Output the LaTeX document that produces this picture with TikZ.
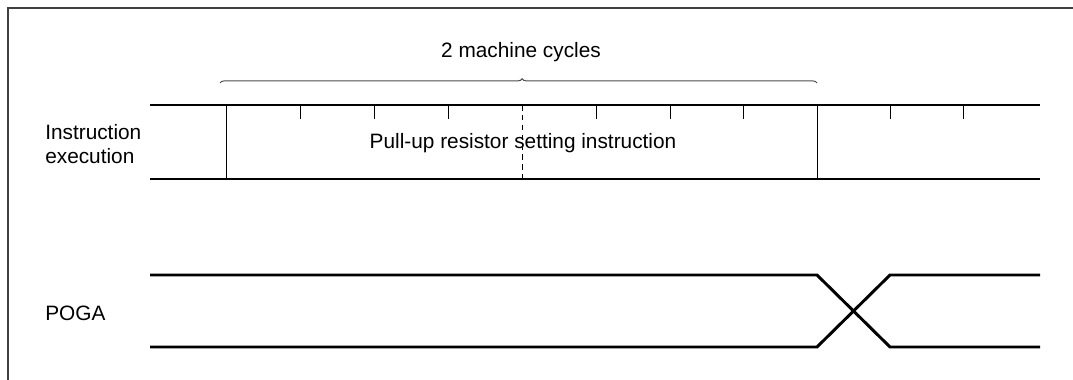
\documentclass[tikz,border=0pt]{standalone}
\usepackage{fontspec}
\setmainfont{Liberation Sans}
\usetikzlibrary{decorations.pathreplacing}

\begin{document}
\begin{tikzpicture}[
    x={(0.025cm,0cm)},
    y={(0cm,-0.025cm)},
    line cap=butt,
    line join=miter,
    frameline/.style={line width=1.2pt,draw=black!75},
    signal/.style={line width=2.1pt},
    edge/.style={line width=0.7pt},
    cycledash/.style={line width=0.7pt,dashed,dash pattern=on 4pt off 3pt},
    label/.style={font=\fontsize{14.8}{17}\selectfont,inner sep=0pt}
]

% =========================================================
% Параметры
% =========================================================

\def\xs{150}     % начало сигналов
\def\xe{1040}    % конец сигналов
\def\yt{105}     % верх шины команд
\def\yb{179}     % низ шины команд
\def\pt{275}     % верх POGA
\def\pb{347}     % низ POGA
\def\tk{14}      % длина штриха такта

\useasboundingbox (0,0) rectangle (1073,380);

% =========================================================
% Рамка
% =========================================================

\draw[frameline] (8,380)--(8,8)--(1073,8);

% =========================================================
% Подписи сигналов
% =========================================================

\node[label,anchor=west,align=left] (instr) at (45,144)
    {Instruction\\execution};
\node[label,anchor=west] (poga) at (45,313) {POGA};

% =========================================================
% Шина выполнения команд
% =========================================================

\draw[signal] (\xs,\yt)--(\xe,\yt);
\draw[signal] (\xs,\yb)--(\xe,\yb);

\draw[edge] (226,\yt)--(226,\yb);
\draw[edge] (817,\yt)--(817,\yb);
\draw[cycledash] (522,\yt)--(522,\yb);

% штрихи тактов
\foreach \x in {300,374,448,596,670,743,890,963}
    \draw[edge] (\x,\yt)--(\x,\yt+\tk);

\node[label] (cmd) at (523,143) {Pull-up resistor setting instruction};

% =========================================================
% Фигурная скобка: два машинных цикла
% =========================================================

\draw[line width=0.7pt,draw=black!70,
      decoration={brace,amplitude=3pt,aspect=0.506},decorate]
    (220,83)--(817,83);

\node[label] (cycles) at (521,52) {2 machine cycles};

% =========================================================
% Сигнал POGA
% =========================================================

\draw[signal] (\xs,\pt)--(817,\pt)--(890,\pb)--(\xe,\pb);
\draw[signal] (\xs,\pb)--(817,\pb)--(890,\pt)--(\xe,\pt);

\end{tikzpicture}
\end{document}
